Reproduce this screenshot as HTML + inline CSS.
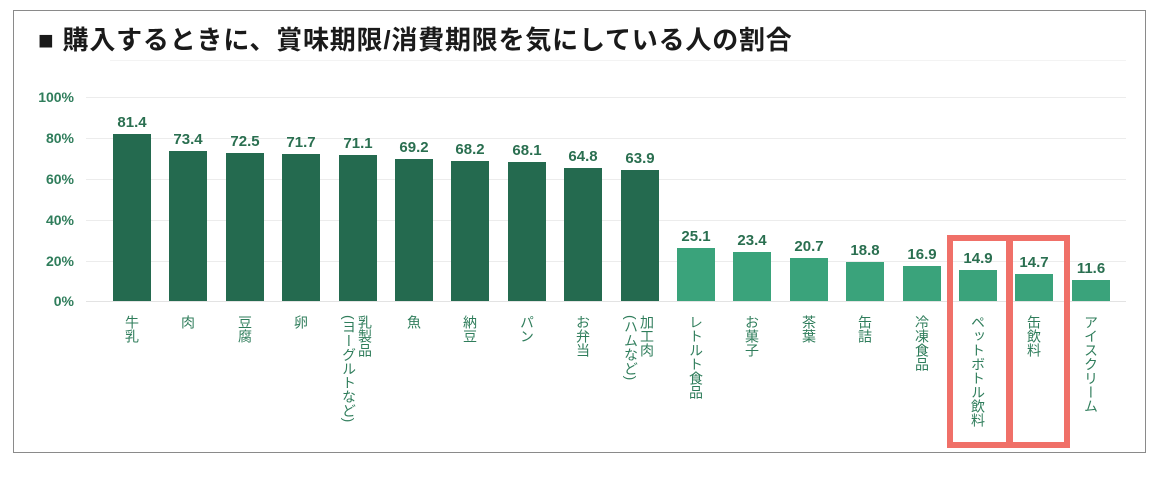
<!DOCTYPE html>
<html><head><meta charset="utf-8"><style>
body{margin:0;width:1167px;height:480px;background:#fff;position:relative;overflow:hidden;font-family:"Liberation Sans","Noto Sans CJK JP",sans-serif}
.frame{position:absolute;left:13px;top:10px;width:1131px;height:441px;border:1.5px solid #8a8a8a}
.title{position:absolute;left:38px;top:20px;font-size:26px;font-weight:bold;color:#1a1a1a;white-space:nowrap;letter-spacing:0.8px}
.g{position:absolute;left:86px;width:1040px;height:1px;background:#ececec}
.yl{position:absolute;left:20px;width:54px;text-align:right;font-size:14px;font-weight:bold;color:#2f7d5b}
.c{position:absolute;bottom:179px;width:38px;display:flex;flex-direction:column;align-items:center}
.c span{font-size:15px;font-weight:bold;color:#2a6f50;margin-bottom:3px;white-space:nowrap}
.c div{width:38px}
.d{background:#246a4f}.l{background:#3aa37b}
.cat{position:absolute;top:315px;writing-mode:vertical-rl;font-size:14px;line-height:16px;color:#2f7d5b;white-space:nowrap}
.red{position:absolute;border:6px solid #f07068;box-sizing:border-box}
</style></head><body>
<div class="frame"></div>
<div class="title">■ 購入するときに、賞味期限/消費期限を気にしている人の割合</div>
<div style="position:absolute;left:110px;top:60px;width:1016px;height:1px;background:#f3f3f3"></div>
<div class="g" style="top:97px"></div><div class="g" style="top:138px"></div><div class="g" style="top:179px"></div><div class="g" style="top:220px"></div><div class="g" style="top:261px"></div><div class="g" style="top:301px;background:#e3e3e3"></div>
<div class="yl" style="top:89px">100%</div><div class="yl" style="top:130px">80%</div><div class="yl" style="top:171px">60%</div><div class="yl" style="top:212px">40%</div><div class="yl" style="top:253px">20%</div><div class="yl" style="top:293px">0%</div>

<div class="c" style="left:113px"><span>81.4</span><div class="d" style="height:167px"></div></div>
<div class="c" style="left:169px"><span>73.4</span><div class="d" style="height:150px"></div></div>
<div class="c" style="left:226px"><span>72.5</span><div class="d" style="height:148px"></div></div>
<div class="c" style="left:282px"><span>71.7</span><div class="d" style="height:147px"></div></div>
<div class="c" style="left:339px"><span>71.1</span><div class="d" style="height:146px"></div></div>
<div class="c" style="left:395px"><span>69.2</span><div class="d" style="height:142px"></div></div>
<div class="c" style="left:451px"><span>68.2</span><div class="d" style="height:140px"></div></div>
<div class="c" style="left:508px"><span>68.1</span><div class="d" style="height:139px"></div></div>
<div class="c" style="left:564px"><span>64.8</span><div class="d" style="height:133px"></div></div>
<div class="c" style="left:621px"><span>63.9</span><div class="d" style="height:131px"></div></div>
<div class="c" style="left:677px"><span>25.1</span><div class="l" style="height:53px"></div></div>
<div class="c" style="left:733px"><span>23.4</span><div class="l" style="height:49px"></div></div>
<div class="c" style="left:790px"><span>20.7</span><div class="l" style="height:43px"></div></div>
<div class="c" style="left:846px"><span>18.8</span><div class="l" style="height:39px"></div></div>
<div class="c" style="left:903px"><span>16.9</span><div class="l" style="height:35px"></div></div>
<div class="c" style="left:959px"><span>14.9</span><div class="l" style="height:31px"></div></div>
<div class="c" style="left:1015px"><span>14.7</span><div class="l" style="height:27px"></div></div>
<div class="c" style="left:1072px"><span>11.6</span><div class="l" style="height:21px"></div></div>

<div class="cat" style="left:124px">牛乳</div>
<div class="cat" style="left:180px">肉</div>
<div class="cat" style="left:237px">豆腐</div>
<div class="cat" style="left:293px">卵</div>
<div class="cat" style="left:341px">乳製品<br>(ヨーグルトなど)</div>
<div class="cat" style="left:406px">魚</div>
<div class="cat" style="left:462px">納豆</div>
<div class="cat" style="left:519px">パン</div>
<div class="cat" style="left:575px">お弁当</div>
<div class="cat" style="left:623px">加工肉<br>(ハムなど)</div>
<div class="cat" style="left:688px">レトルト食品</div>
<div class="cat" style="left:744px">お菓子</div>
<div class="cat" style="left:801px">茶葉</div>
<div class="cat" style="left:857px">缶詰</div>
<div class="cat" style="left:914px">冷凍食品</div>
<div class="cat" style="left:970px">ペットボトル飲料</div>
<div class="cat" style="left:1026px">缶飲料</div>
<div class="cat" style="left:1083px">アイスクリーム</div>

<div class="red" style="left:947px;top:235px;width:65px;height:213px"></div>
<div class="red" style="left:1007px;top:235px;width:63px;height:213px"></div>
</body></html>
